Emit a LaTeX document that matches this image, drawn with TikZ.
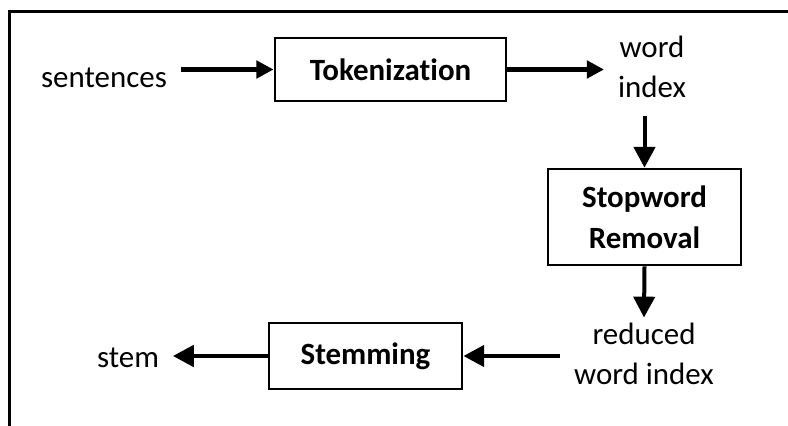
\documentclass[tikz,border=0pt]{standalone}
\usepackage{fontspec}
\setmainfont[Ligatures=NoCommon]{Carlito}
\usetikzlibrary{arrows.meta,positioning}

\tikzset{every picture/.style={line width=0.065cm}}

\begin{document}
\begin{tikzpicture}[x=0.025cm,y=-0.025cm,
		every node/.style={font=\fontsize{22}{28}\selectfont, align=center},
		procbox/.style={draw, rectangle, inner sep=0pt, font=\fontsize{22}{29}\selectfont\bfseries},
		txt/.style={inner sep=0pt, outer xsep=0.35cm, outer ysep=0.45cm},
		bigarr/.style={line width=0.125cm, -{Triangle[length=0.43cm,width=0.43cm]}},
		arr/.style={line width=0.1cm, -{Triangle[length=0.52cm,width=0.53cm]}}
	]
	\useasboundingbox (0,0) rectangle (788,426);
	\draw (9.5,426) -- (9.5,11.5) -- (788,11.5);
	% boxes
	\node[procbox, minimum width=5.78cm, minimum height=1.58cm] (tok) at (390.5,69.5) {Tokenization};
	\node[procbox, minimum width=4.83cm, minimum height=2.4cm] (stop) at (644.5,217) {Stopword\\Removal};
	\node[procbox, minimum width=4.83cm, minimum height=1.65cm] (stm) at (365.5,356) {Stemming};
	% texts
	\node[txt] (sent) at (104,78) {sentences};
	\node[txt] (widx) at (652,67) {word\\index};
	\node[txt, outer ysep=0.15cm] (ridx) at (644,354) {reduced\\word index};
	\node[txt] (stem) at (128,358) {stem};
	% arrows
	\draw[bigarr] (sent.east |- tok.west) -- (tok.west);
	\draw[bigarr] (tok.east) -- (tok.east -| widx.west);
	\draw[arr] (widx.south -| stop.north) -- (stop.north);
	\draw[arr] (stop.south) -- (ridx.north);
	\draw[arr] (ridx.west |- stm.east) -- (stm.east);
	\draw[arr] (stm.west) -- (stm.west -| stem.east);
\end{tikzpicture}
\end{document}
